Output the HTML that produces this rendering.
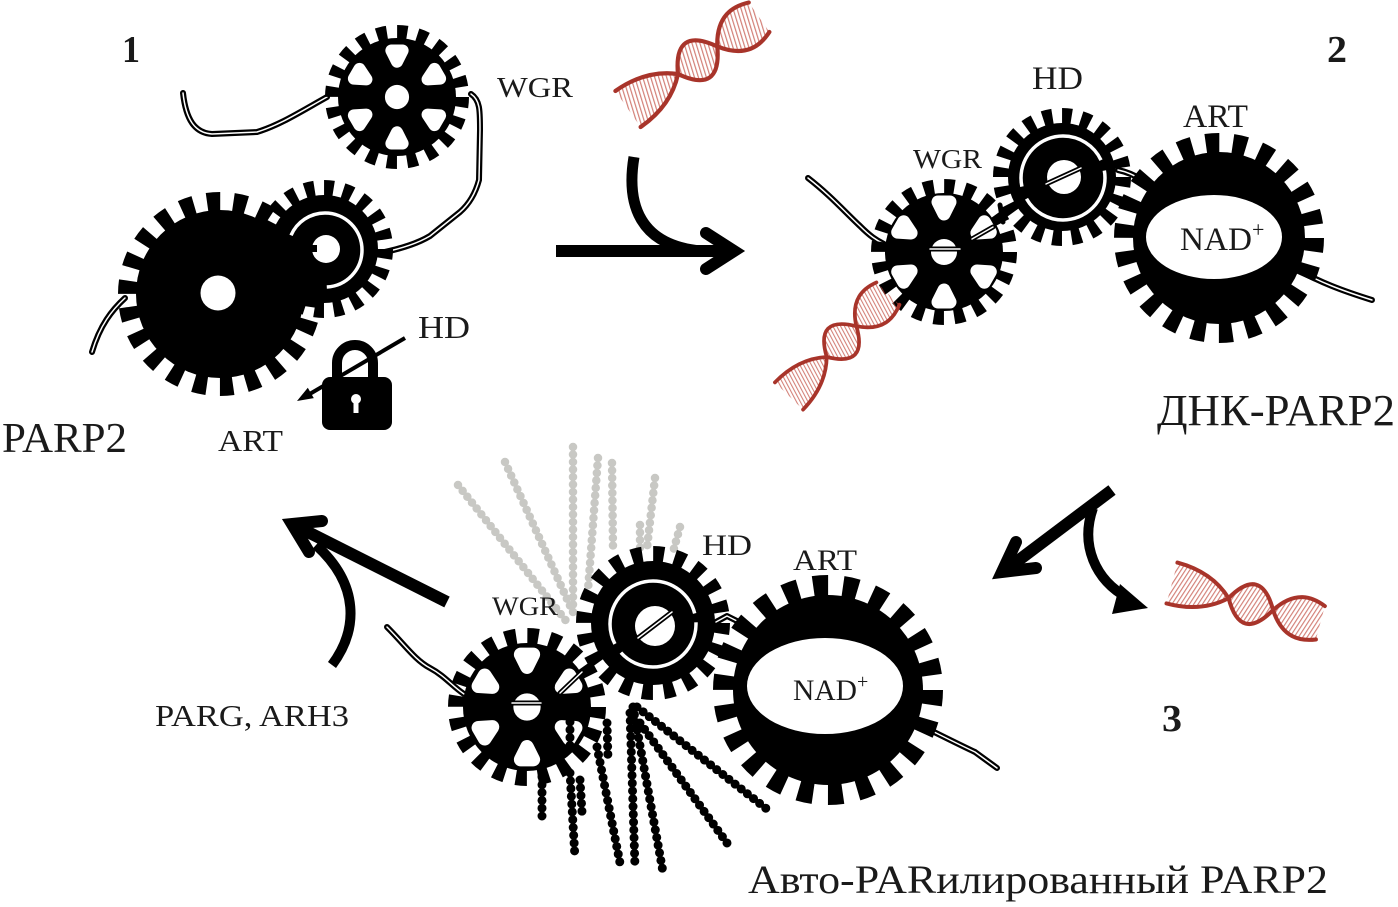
<!DOCTYPE html>
<html><head><meta charset="utf-8">
<style>
html,body{margin:0;padding:0;background:#fff;}
svg{display:block;}
text{font-family:"Liberation Serif","DejaVu Serif",serif;fill:#1a1a1a;}
</style></head><body>
<svg width="1398" height="907" viewBox="0 0 1398 907" xmlns="http://www.w3.org/2000/svg">
<defs>
<pattern id="hatch" width="3.8" height="10" patternUnits="userSpaceOnUse" patternTransform="rotate(18)">
<rect x="0" y="0" width="1.2" height="10" fill="#c0493d"/>
</pattern>
<g id="dna">
<path d="M0,-22 C25,-22 45,-15 61,0 C77,28 93,28 109,0 C126,-26 145,-24 160,-18 L160,18 C145,24 126,26 109,0 C93,-28 77,-28 61,0 C45,15 25,22 0,22 Z" fill="url(#hatch)" opacity="0.7"/>
<path d="M0,-22 C25,-22 45,-15 61,0 C77,28 93,28 109,0 C126,-26 145,-24 160,-18" fill="none" stroke="#a8342a" stroke-width="4.2" stroke-linecap="round"/>
<path d="M0,22 C25,22 45,15 61,0 C77,-28 93,-28 109,0 C126,26 145,24 160,18" fill="none" stroke="#a8342a" stroke-width="4.2" stroke-linecap="round"/>
</g>
<g id="holes">
<circle r="13" fill="#fff"/>
<g fill="#fff" stroke="#fff" stroke-width="13" stroke-linejoin="round">
<path d="M-6,-50 L6,-50 L0,-38 Z"/>
<path d="M-6,-50 L6,-50 L0,-38 Z" transform="rotate(60)"/>
<path d="M-6,-50 L6,-50 L0,-38 Z" transform="rotate(120)"/>
<path d="M-6,-50 L6,-50 L0,-38 Z" transform="rotate(180)"/>
<path d="M-6,-50 L6,-50 L0,-38 Z" transform="rotate(240)"/>
<path d="M-6,-50 L6,-50 L0,-38 Z" transform="rotate(300)"/>
</g>
</g>
</defs>

<!-- gray PAR chains (behind) -->
<g fill="none" stroke="#c8c8c4" stroke-width="8.5" stroke-linecap="round" stroke-dasharray="0 7.5">
<path d="M458,485 L567,622"/>
<path d="M505,462 L572,610"/>
<path d="M573,447 L573,615"/>
<path d="M598,458 L588,590"/>
<path d="M612,463 L613,548"/>
<path d="M655,478 L647,548"/>
<path d="M640,525 L640,548"/>
<path d="M680,527 L673,552"/>
</g>

<!-- linkers (behind gears) -->
<g fill="none" stroke-linecap="round" stroke-linejoin="round">
<g stroke="#000" stroke-width="6">
<path d="M183,93 C186,120 195,133 212,134 L257,132 C280,125 300,112 327,97"/>
<path d="M471,94 C480,100 480,110 480,130 L479,180 C475,195 468,205 460,212 L430,236 C415,245 395,250 380,253"/>
<path d="M125,298 C112,310 100,325 92,352"/>
<path d="M808,178 C830,195 845,212 860,226 C870,236 876,240 884,244"/>
<path d="M1118,170 C1128,172 1136,176 1144,181"/>
<path d="M1298,270 C1320,282 1340,290 1372,300"/>
<path d="M387,627 C405,645 415,660 430,668 C445,676 452,686 464,694"/>
<path d="M912,721 C940,735 960,745 975,752 L997,768"/>
<path d="M716,622 L727,616 L737,621"/>
</g>
<g stroke="#fff" stroke-width="1.5">
<path d="M183,93 C186,120 195,133 212,134 L257,132 C280,125 300,112 327,97"/>
<path d="M471,94 C480,100 480,110 480,130 L479,180 C475,195 468,205 460,212 L430,236 C415,245 395,250 380,253"/>
<path d="M125,298 C112,310 100,325 92,352"/>
<path d="M808,178 C830,195 845,212 860,226 C870,236 876,240 884,244"/>
<path d="M1118,170 C1128,172 1136,176 1144,181"/>
<path d="M1298,270 C1320,282 1340,290 1372,300"/>
<path d="M387,627 C405,645 415,660 430,668 C445,676 452,686 464,694"/>
<path d="M912,721 C940,735 960,745 975,752 L997,768"/>
<path d="M716,622 L727,616 L737,621"/>
</g>
</g>

<!-- Panel 1 gears -->
<circle cx="220" cy="294" r="84" fill="#000"/>
<circle cx="220" cy="294" r="92.5" fill="none" stroke="#000" stroke-width="19" stroke-dasharray="13.21 13.21"/>
<circle cx="218" cy="293" r="17.5" fill="#fff"/>

<circle cx="324" cy="249" r="54" fill="#000"/>
<circle cx="324" cy="249" r="61" fill="none" stroke="#000" stroke-width="16" stroke-dasharray="9.58 9.58"/>
<circle cx="325" cy="250" r="37" fill="none" stroke="#fff" stroke-width="3.5" stroke-dasharray="56.2 74.9 101.4 0"/>
<circle cx="326" cy="249" r="14" fill="#fff"/>
<rect x="310" y="245" width="7" height="7" fill="#000"/>

<circle cx="397" cy="97" r="59" fill="#000"/>
<circle cx="397" cy="97" r="65" fill="none" stroke="#000" stroke-width="14" stroke-dasharray="10.21 10.21"/>
<use href="#holes" transform="translate(397,97) scale(0.93)"/>

<!-- Panel 2 gears -->
<circle cx="944" cy="252" r="59" fill="#000"/>
<circle cx="944" cy="252" r="65.5" fill="none" stroke="#000" stroke-width="15" stroke-dasharray="10.29 10.29"/>
<use href="#holes" transform="translate(944,252)"/>

<circle cx="1062" cy="177" r="54" fill="#000"/>
<circle cx="1062" cy="177" r="61" fill="none" stroke="#000" stroke-width="16" stroke-dasharray="9.58 9.58"/>
<circle cx="1063" cy="178" r="42" fill="none" stroke="#fff" stroke-width="3.5" stroke-dasharray="110 13 122 11 8 0"/>
<circle cx="1064" cy="177" r="17" fill="#fff"/>

<circle cx="1219" cy="238" r="86" fill="#000"/>
<circle cx="1219" cy="238" r="95" fill="none" stroke="#000" stroke-width="20" stroke-dasharray="13.57 13.57"/>
<ellipse cx="1214" cy="237" rx="68" ry="42" fill="#fff"/>

<!-- Panel 3 gears -->
<circle cx="527" cy="707" r="64" fill="#000"/>
<circle cx="527" cy="707" r="71" fill="none" stroke="#000" stroke-width="16" stroke-dasharray="11.16 11.16"/>
<use href="#holes" transform="translate(527,707) scale(1.05)"/>

<circle cx="653" cy="623" r="62" fill="#000"/>
<circle cx="653" cy="623" r="69" fill="none" stroke="#000" stroke-width="16" stroke-dasharray="10.84 10.84"/>
<circle cx="653" cy="624" r="43" fill="none" stroke="#fff" stroke-width="3.5" stroke-dasharray="103.6 10.5 144.9 9 2.2 0"/>
<circle cx="655" cy="626" r="20" fill="#fff"/>

<circle cx="828" cy="690" r="95" fill="#000"/>
<circle cx="828" cy="690" r="104.5" fill="none" stroke="#000" stroke-width="21" stroke-dasharray="14.92 14.92"/>
<ellipse cx="825" cy="686" rx="78" ry="48" fill="#fff"/>

<!-- linkers inside holes -->
<g fill="none" stroke-linecap="round">
<g stroke="#000" stroke-width="5">
<path d="M930,249 L960,249"/>
<path d="M972,239 L993,227"/>
<path d="M1046,184 L1081,168"/>
<path d="M1000,205 L1003,222"/>
<path d="M512,703 L541,703"/>
<path d="M560,693 L582,672"/>
<path d="M638,638 L672,612"/>
</g>
<g stroke="#fff" stroke-width="1.5">
<path d="M930,249 L960,249"/>
<path d="M972,239 L993,227"/>
<path d="M1046,184 L1081,168"/>
<path d="M512,703 L541,703"/>
<path d="M560,693 L582,672"/>
<path d="M638,638 L672,612"/>
</g>
</g>

<!-- black PAR chains -->
<g fill="none" stroke="#000" stroke-width="9" stroke-linecap="round" stroke-dasharray="0 7.8">
<path d="M542,777 L542,820"/>
<path d="M570,773 L575,858"/>
<path d="M580,780 L582,812"/>
<path d="M607,723 L608,760"/>
<path d="M597,747 L620,863"/>
<path d="M630,713 L635,867"/>
<path d="M633,707 L663,872"/>
<path d="M640,723 L727,843"/>
<path d="M637,707 L768,810"/>
<path d="M570,722 L570,752"/>
</g>

<!-- lock -->
<rect x="322" y="377" width="70" height="53" rx="8" fill="#000"/>
<path d="M337,381 L337,363 A18,18 0 0 1 373,363 L373,381" fill="none" stroke="#000" stroke-width="10"/>
<circle cx="356" cy="399" r="5" fill="#fff"/>
<rect x="353.5" y="399" width="5" height="14" fill="#fff"/>
<line x1="405" y1="338" x2="308" y2="395" stroke="#000" stroke-width="4"/>
<polygon points="297,401 313.8,398.1 307.8,387.7" fill="#000"/>

<!-- arrows -->
<g fill="none" stroke="#000" stroke-width="12">
<line x1="556" y1="251" x2="732" y2="251"/>
<polyline points="706,233 734,251 706,269" stroke-linecap="round" stroke-linejoin="miter"/>
<path d="M634,157 C626,205 640,245 700,251" stroke-width="11"/>

<line x1="1112" y1="490" x2="1003" y2="572"/>
<polyline points="1016,542 1002,572 1036,568" stroke-linecap="round"/>
<path d="M1093,508 C1080,545 1095,580 1128,598" stroke-width="10"/>

<line x1="447" y1="602" x2="292" y2="524"/>
<polyline points="322,521 292,524 309,552" stroke-linecap="round"/>
<path d="M332,665 C358,630 360,585 316,545" stroke-width="10"/>
</g>
<polygon points="1120,584 1148,608 1112,614" fill="#000"/>

<!-- DNA -->
<use href="#dna" transform="translate(628,109) rotate(-35)"/>
<use href="#dna" transform="translate(789,396) rotate(-46) scale(0.89)"/>
<use href="#dna" transform="translate(1172,583) rotate(15) scale(0.96)"/>

<!-- labels -->
<text x="122" y="62" font-size="38" font-weight="bold" textLength="18" lengthAdjust="spacingAndGlyphs">1</text>
<text x="1327" y="62" font-size="38" font-weight="bold" textLength="20" lengthAdjust="spacingAndGlyphs">2</text>
<text x="1162" y="731" font-size="38" font-weight="bold" textLength="20" lengthAdjust="spacingAndGlyphs">3</text>

<text x="497" y="97" font-size="29" textLength="76" lengthAdjust="spacingAndGlyphs">WGR</text>
<text x="418" y="338" font-size="32" textLength="52" lengthAdjust="spacingAndGlyphs">HD</text>
<text x="218" y="451" font-size="31" textLength="65" lengthAdjust="spacingAndGlyphs">ART</text>
<text x="2" y="452" font-size="42" textLength="125" lengthAdjust="spacingAndGlyphs">PARP2</text>

<text x="1032" y="89" font-size="33" textLength="51" lengthAdjust="spacingAndGlyphs">HD</text>
<text x="1183" y="127" font-size="33" textLength="65" lengthAdjust="spacingAndGlyphs">ART</text>
<text x="913" y="168" font-size="27" textLength="69" lengthAdjust="spacingAndGlyphs">WGR</text>
<text x="1180" y="250" font-size="33"><tspan textLength="72" lengthAdjust="spacingAndGlyphs">NAD</tspan><tspan font-size="22" dy="-13">+</tspan></text>
<text x="1157" y="425" font-size="44" textLength="238" lengthAdjust="spacingAndGlyphs">ДНК-PARP2</text>

<text x="702" y="555" font-size="30" textLength="50" lengthAdjust="spacingAndGlyphs">HD</text>
<text x="793" y="570" font-size="30" textLength="64" lengthAdjust="spacingAndGlyphs">ART</text>
<text x="492" y="615" font-size="26" textLength="66" lengthAdjust="spacingAndGlyphs">WGR</text>
<text x="793" y="700" font-size="30"><tspan textLength="64" lengthAdjust="spacingAndGlyphs">NAD</tspan><tspan font-size="20" dy="-12">+</tspan></text>

<text x="155" y="726" font-size="31" textLength="194" lengthAdjust="spacingAndGlyphs">PARG, ARH3</text>
<text x="748" y="893" font-size="40" textLength="580" lengthAdjust="spacingAndGlyphs">Авто-PARилированный PARP2</text>
</svg>
</body></html>
